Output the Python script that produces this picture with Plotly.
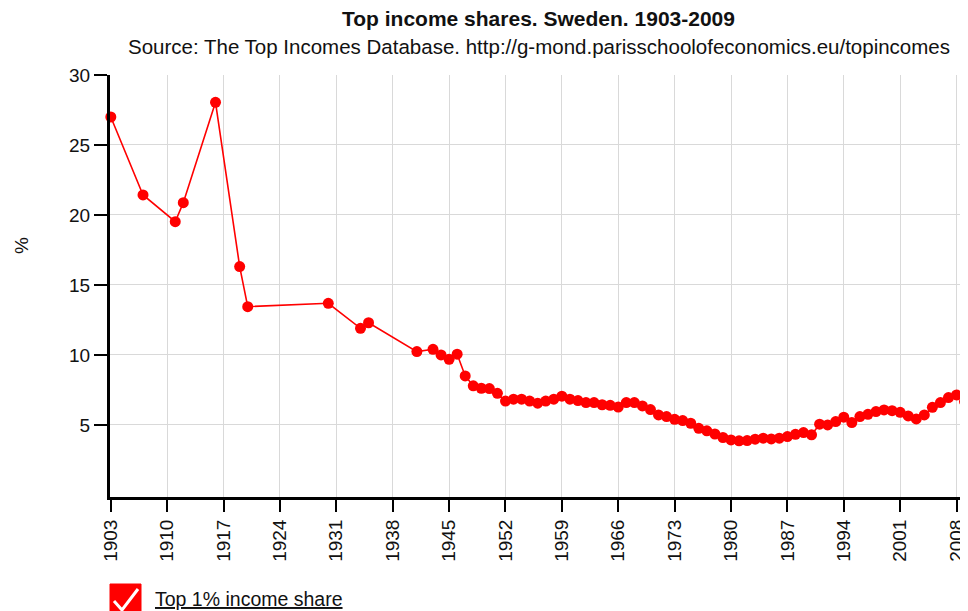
import plotly.graph_objects as go

years = [1903, 1907, 1911, 1912, 1916, 1919, 1920, 1930, 1934, 1935, 1941, 1943, 1944,
         1945, 1946, 1947, 1948, 1949, 1950, 1951, 1952, 1953, 1954, 1955, 1956, 1957,
         1958, 1959, 1960, 1961, 1962, 1963, 1964, 1965, 1966, 1967, 1968, 1969, 1970,
         1971, 1972, 1973, 1974, 1975, 1976, 1977, 1978, 1979, 1980, 1981, 1982, 1983,
         1984, 1985, 1986, 1987, 1988, 1989, 1990, 1991, 1992, 1993, 1994, 1995, 1996,
         1997, 1998, 1999, 2000, 2001, 2002, 2003, 2004, 2005, 2006, 2007, 2008, 2009]
top1 = [27.0, 21.43, 19.52, 20.88, 28.05, 16.31, 13.45, 13.69, 11.9, 12.3, 10.24, 10.4, 10.0,
        9.69, 10.05, 8.5, 7.79, 7.62, 7.6, 7.26, 6.7, 6.84, 6.84, 6.7, 6.55, 6.7,
        6.84, 7.05, 6.84, 6.74, 6.6, 6.6, 6.44, 6.4, 6.28, 6.6, 6.6, 6.36, 6.1,
        5.71, 5.6, 5.4, 5.31, 5.12, 4.76, 4.58, 4.35, 4.1, 3.93, 3.86, 3.88, 3.98,
        4.05, 4.0, 4.05, 4.17, 4.33, 4.45, 4.29, 5.05, 5.0, 5.24, 5.55, 5.17, 5.6,
        5.76, 5.95, 6.07, 6.02, 5.9, 5.64, 5.43, 5.71, 6.26, 6.6, 6.95, 7.14, 6.67]

x_ticks = list(range(1903, 2009, 7))
y_ticks = [5, 10, 15, 20, 25, 30]

title_text = "Top income shares. Sweden. 1903-2009"
subtitle_text = "Source: The Top Incomes Database. http://g-mond.parisschoolofeconomics.eu/topincomes"
y_title = "%"
series_name = "Top 1% income share"

fig = go.Figure()
fig.add_trace(go.Scatter(
    x=years, y=top1, mode="lines+markers", name=series_name,
    line=dict(color="#ff0000", width=1.6),
    marker=dict(color="#ff0000", size=11),
    showlegend=False, cliponaxis=False,
))

font_family = "Liberation Sans, Arial, sans-serif"

fig.update_layout(
    width=960, height=603,
    margin=dict(l=102, r=1, t=67, b=114, autoexpand=False),
    paper_bgcolor="white", plot_bgcolor="white",
    font=dict(family=font_family, size=19, color="#111111"),
    xaxis=dict(
        range=[1902.9, 2009.3], tickvals=x_ticks, ticktext=[str(v) for v in x_ticks],
        tickangle=-90, ticks="outside", ticklen=12, tickwidth=2, tickcolor="black",
        showgrid=True, gridcolor="#d9d9d9", gridwidth=1, automargin=False,
        showline=True, linecolor="black", linewidth=3, zeroline=False,
        tickfont=dict(size=19),
    ),
    yaxis=dict(
        range=[-0.15, 30], tickvals=y_ticks, ticktext=[str(v) for v in y_ticks],
        ticks="outside", ticklen=13, tickwidth=2, tickcolor="black",
        showgrid=True, gridcolor="#d9d9d9", gridwidth=1, automargin=False,
        showline=True, linecolor="black", linewidth=3, zeroline=False,
        tickfont=dict(size=19),
    ),
)

fig.add_annotation(
    text=y_title, xref="paper", yref="paper", x=0, y=0.595, xshift=-88,
    xanchor="center", yanchor="middle", textangle=-90, showarrow=False,
    font=dict(size=19, family=font_family),
)
fig.add_annotation(
    text="<b>" + title_text + "</b>", xref="paper", yref="paper",
    x=0.5, y=1.0, yshift=57, xanchor="center", yanchor="middle", showarrow=False,
    font=dict(size=21, family=font_family),
)
fig.add_annotation(
    text=subtitle_text, xref="paper", yref="paper",
    x=0.5, y=1.0, yshift=29, xanchor="center", yanchor="middle", showarrow=False,
    font=dict(size=20.5, family=font_family),
)

# legend: checked checkbox + underlined label
fig.add_shape(type="rect", xref="paper", yref="paper", xsizemode="pixel", ysizemode="pixel",
              xanchor=0, yanchor=0, x0=0, x1=31, y0=-87, y1=-118,
              fillcolor="#ff0000", line=dict(color="#ff0000", width=1), layer="above")
fig.add_shape(type="path", xref="paper", yref="paper", xsizemode="pixel", ysizemode="pixel",
              xanchor=0, yanchor=0,
              path="M 4,-104 L 12,-113 L 28,-92",
              line=dict(color="white", width=3), layer="above")
fig.add_annotation(
    text="<u>" + series_name + "</u>", xref="paper", yref="paper",
    x=0, y=0, xshift=43, yshift=-102, xanchor="left", yanchor="middle", showarrow=False,
    font=dict(size=19.5, family=font_family),
)

fig.write_html("out.html")
